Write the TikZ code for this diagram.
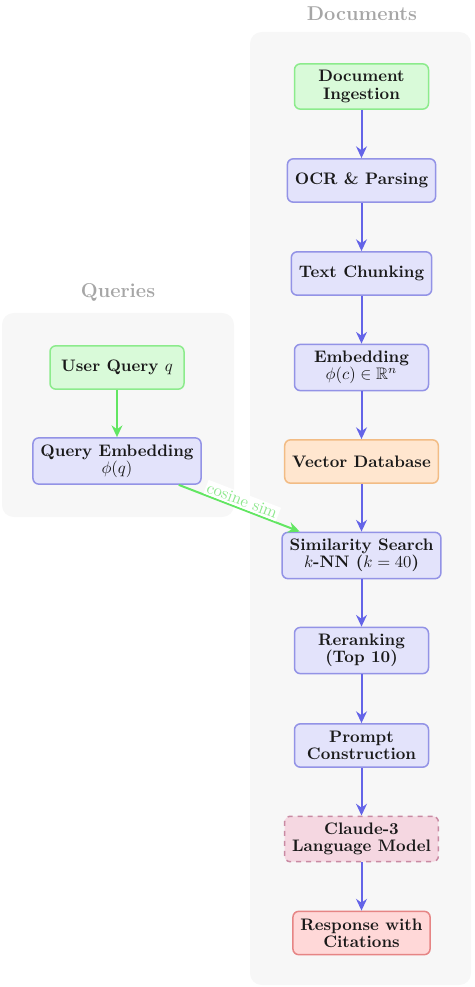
\documentclass[tikz,border=0pt]{standalone}
\usepackage{amssymb}
\usetikzlibrary{arrows.meta,positioning}
\definecolor{bgc}{HTML}{F7F7F7}
\definecolor{titlec}{HTML}{A6A6A6}
\definecolor{bluef}{HTML}{E3E3FB}
\definecolor{blued}{HTML}{9393E6}
\definecolor{bluea}{HTML}{6464E8}
\definecolor{greenf}{HTML}{D9FAD9}
\definecolor{greend}{HTML}{8CEB8C}
\definecolor{greena}{HTML}{62E662}
\definecolor{greent}{HTML}{8EE88E}
\definecolor{orangef}{HTML}{FFE6CF}
\definecolor{oranged}{HTML}{F2BC85}
\definecolor{pinkf}{HTML}{F5D7E1}
\definecolor{pinkd}{HTML}{C98AA3}
\definecolor{redf}{HTML}{FFD8D8}
\definecolor{redd}{HTML}{E68585}
\tikzset{
  box/.style={draw, rounded corners=3.5pt, line width=0.9pt, align=center,
    font=\bfseries\fontsize{10}{10.3}\selectfont, inner xsep=4.5pt, inner ysep=4pt,
    minimum width=80.4pt, minimum height=26pt, text=black!90},
  procbox/.style={box, fill=bluef, draw=blued},
  startbox/.style={box, fill=greenf, draw=greend},
  storebox/.style={box, fill=orangef, draw=oranged},
  llmbox/.style={box, fill=pinkf, draw=pinkd, dashed},
  outbox/.style={box, fill=redf, draw=redd},
  flow/.style={draw=bluea, line width=1.2pt, -{Stealth[length=7pt,width=6.5pt]}},
  qflow/.style={draw=greena, line width=1.2pt, -{Stealth[length=7pt,width=6.5pt]}},
  grp/.style={fill=bgc, rounded corners=7pt},
  grptitle/.style={text=titlec, font=\large\bfseries},
}
\begin{document}
\begin{tikzpicture}[x=0.6pt,y=-0.6pt]
\useasboundingbox (0,0) rectangle (474,987);
% group backgrounds
\fill[grp] (250,32) rectangle (471,985);
\fill[grp] (2,313) rectangle (234,517);
\node[grptitle] (tdoc) at (362,14) {Documents};
\node[grptitle] (tq) at (118,292) {Queries};
% document pipeline
\node[startbox] (ingest) at (361.5,86.5) {Document\\Ingestion};
\node[procbox] (ocr) at (361.5,180.5) {OCR \& Parsing};
\node[procbox] (chunk) at (361.5,273.5) {Text Chunking};
\node[procbox] (emb) at (361.5,367.5) {Embedding\\$\phi(c)\in\mathbb{R}^n$};
\node[storebox] (vdb) at (361.5,461.5) {Vector Database};
\node[procbox] (sim) at (361.5,555.5) {Similarity Search\\$k$-NN ($k=40$)};
\node[procbox] (rerank) at (361.5,650.5) {Reranking\\(Top 10)};
\node[procbox] (prompt) at (361.5,745.5) {Prompt\\Construction};
\node[llmbox] (llm) at (361.5,839) {Claude-3\\Language Model};
\node[outbox] (resp) at (361.5,933) {Response with\\Citations};
% query pipeline
\node[startbox] (uq) at (117,367.5) {User Query $q$};
\node[procbox] (qemb) at (117,461) {Query Embedding\\$\phi(q)$};
% connectors
\draw[flow] (ingest) -- (ocr);
\draw[flow] (ocr) -- (chunk);
\draw[flow] (chunk) -- (emb);
\draw[flow] (emb) -- (vdb);
\draw[flow] (vdb) -- (sim);
\draw[flow] (sim) -- (rerank);
\draw[flow] (rerank) -- (prompt);
\draw[flow] (prompt) -- (llm);
\draw[flow] (llm) -- (resp);
\draw[qflow] (uq) -- (qemb);
\draw[qflow] (qemb) -- node[sloped, above, pos=0.5, fill=white, inner sep=1pt, text=greent, font=\normalsize] (lbl) {cosine sim} (sim);
\end{tikzpicture}
\end{document}
